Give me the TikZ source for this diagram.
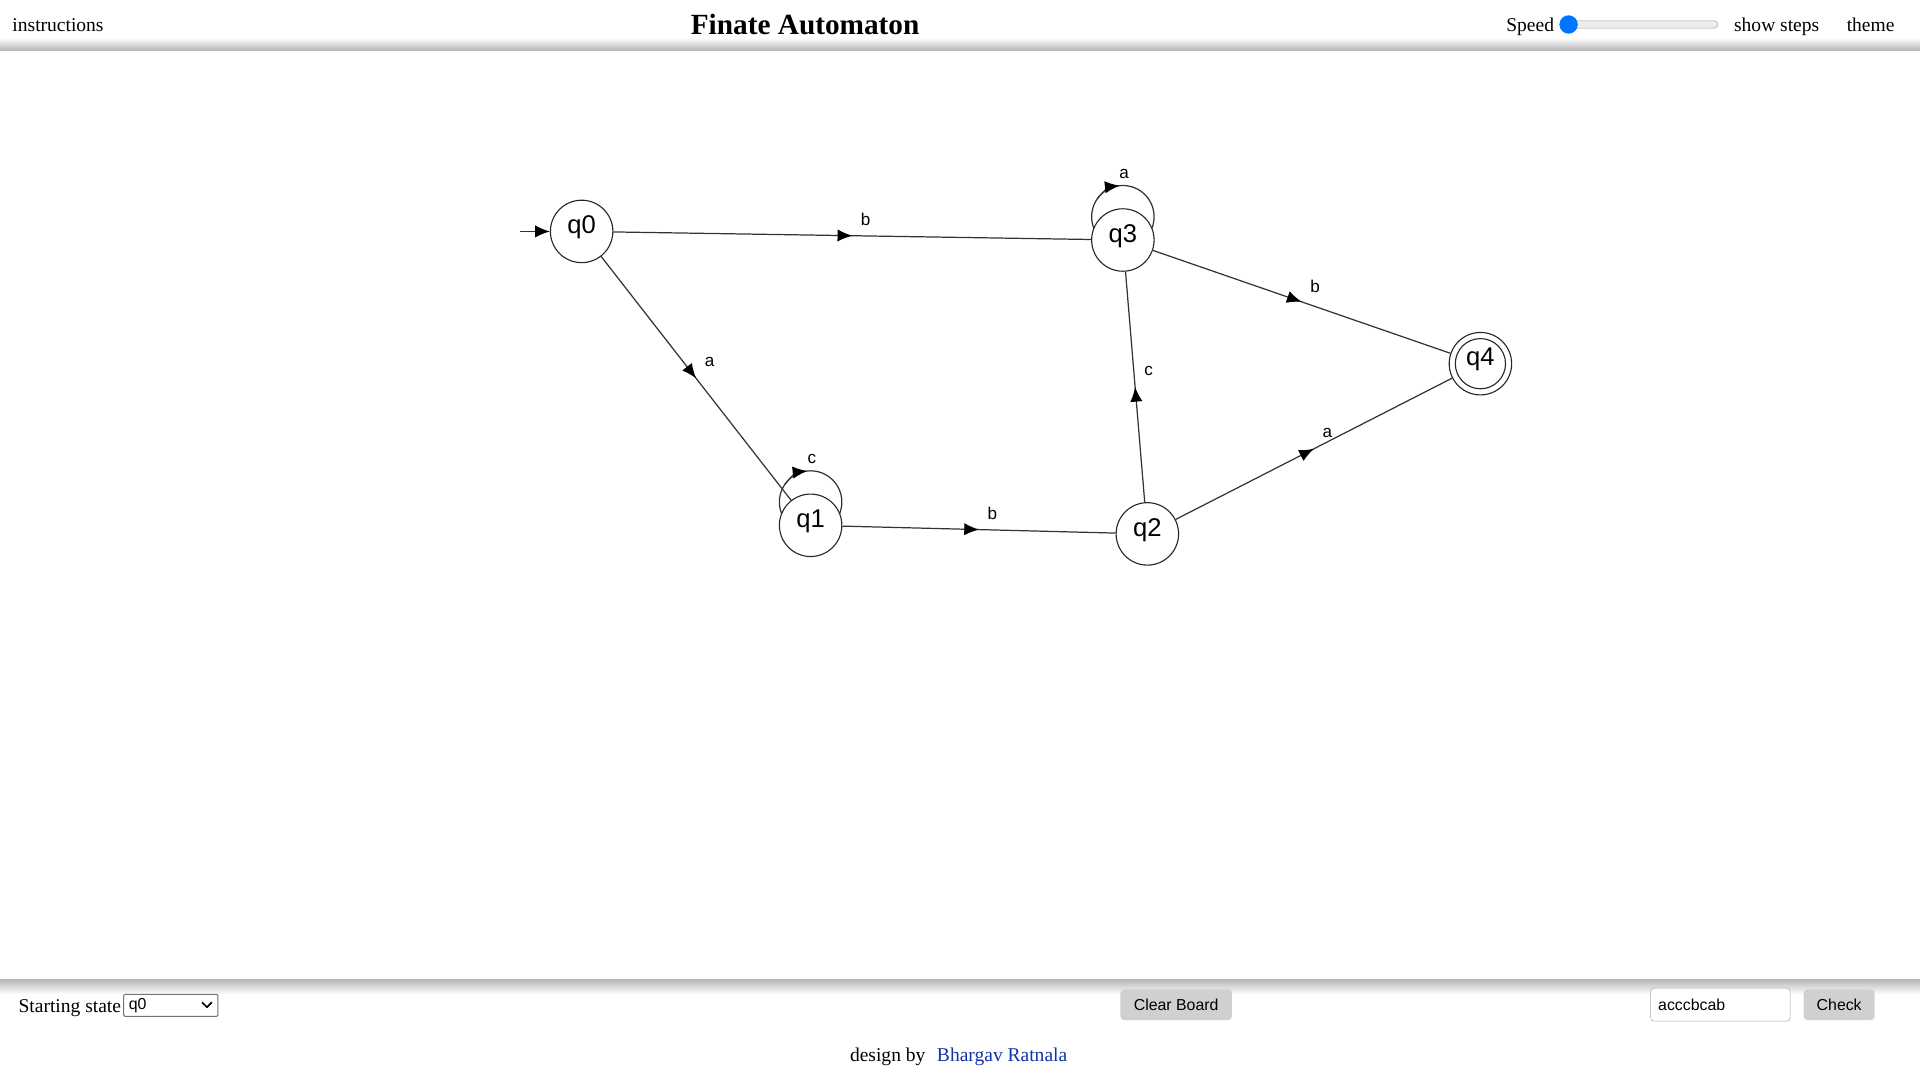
\documentclass[tikz,border=0pt]{standalone}
\usepackage{fontspec}
\setmainfont{Liberation Serif}
\newfontfamily\arialf{Liberation Sans}
\usetikzlibrary{arrows.meta,decorations.markings}
\definecolor{linkblue}{RGB}{16,52,166}
\definecolor{thumbblue}{RGB}{0,117,255}
\definecolor{btngray}{RGB}{208,208,208}
\pgfdeclarelayer{bottomlayer}
\pgfdeclarelayer{background}
\pgfsetlayers{bottomlayer,background,main}
\begin{document}
\begin{tikzpicture}[x=1bp,y=-1bp,line join=round,
  fastate/.style={circle, draw=black!85, line width=0.9bp, fill=white, minimum size=51bp, inner sep=0pt,
    font=\arialf\fontsize{21}{21}\selectfont, text height=13bp, text depth=9.5bp},
  edgeline/.style={draw=black!80, line width=1bp},
  tipstyle/.style={-{Latex[length=12bp,width=10bp,color=black]}},
  midarrow/.style={edgeline, postaction={decorate},
    decoration={markings, mark=at position 0.5 with {\arrow{Latex[length=12bp,width=10bp,color=black]}}}},
  elabel/.style={font=\arialf\fontsize{14}{14}\selectfont, inner sep=0pt, xshift=11bp, yshift=13bp},
  uitext/.style={font=\fontsize{16}{19}\selectfont, inner sep=0pt, anchor=base west},
  btntext/.style={font=\arialf\fontsize{13}{15}\selectfont, inner sep=0pt}]
\useasboundingbox (0,0) rectangle (1568,882);
\begin{pgfonlayer}{bottomlayer}
\fill[white] (0,0) rectangle (1568,882);
\end{pgfonlayer}

% ---------- top bar ----------
\shade[top color=white, bottom color=black!28] (0,31) rectangle (1568,41);
\node[uitext] (instr) at (10,26) {instructions};
\node[font=\bfseries\fontsize{24}{28}\selectfont, inner sep=0pt, anchor=base] (title) at (657.5,28.5) {Finate Automaton};
\node[uitext] (speed) at (1230,26) {Speed};
\draw[draw=black!35, fill=black!7, rounded corners=3bp] (1280,17) rectangle (1403,23);
\fill[thumbblue] (1281,20) circle[radius=7.5bp];
\node[uitext] (steps) at (1416,26) {show steps};
\node[uitext] (theme) at (1508,26) {theme};

% ---------- bottom bar ----------
\shade[top color=black!28, bottom color=white] (0,800) rectangle (1568,812);
\node[uitext] (startlbl) at (15,826.5) {Starting state};
\draw[black!55, line width=0.8bp, rounded corners=1bp, fill=white] (101,812) rectangle (178,830);
\node[btntext, anchor=west] (selq) at (105,821) {q0};
\draw[line width=1.4bp] (165,818.5) -- (169,822.5) -- (173,818.5);
\fill[btngray, rounded corners=3bp] (915,808) rectangle (1006,833);
\node[btntext] (clear) at (960.5,820.5) {Clear Board};
\draw[black!35, fill=white, rounded corners=3bp] (1348,807) rectangle (1462,834);
\node[btntext, anchor=west] (inp) at (1354,820.5) {acccbcab};
\fill[btngray, rounded corners=3bp] (1473,808) rectangle (1531,833);
\node[btntext] (check) at (1502,820.5) {Check};
\node[uitext] (design) at (694,866.5) {design by};
\node[uitext, text=linkblue] (author) at (765,866.5) {Bhargav Ratnala};

% ---------- automaton ----------
\node[fastate] (q0) at (475,189) {q0};
\node[fastate] (q1) at (662,429) {q1};
\node[fastate] (q2) at (937,436) {q2};
\node[fastate] (q3) at (917,196) {q3};
\node[fastate] (q4) at (1209,297) {q4};
\draw[black!85, line width=0.9bp] (q4.center) circle[radius=20.5bp];

\coordinate (init) at (425,189);
\coordinate (l1) at ([yshift=19bp]q1.center);
\coordinate (l3) at ([yshift=19bp]q3.center);

% self loops (behind the states)
\begin{pgfonlayer}{background}
\draw[edgeline] (l1) circle[radius=25.5bp];
\draw[edgeline] (l3) circle[radius=25.5bp];
\end{pgfonlayer}
\draw[edgeline, tipstyle] ([shift={(145:25.5bp)}]l1) arc[start angle=145, end angle=96, radius=25.5bp];
\draw[edgeline, tipstyle] ([shift={(145:25.5bp)}]l3) arc[start angle=145, end angle=96, radius=25.5bp];
\node[elabel, xshift=-10bp, yshift=-13bp] (lc1) at ([yshift=54bp]q1.center) {c};
\node[elabel, xshift=-10bp, yshift=-13bp] (la3) at ([yshift=54bp]q3.center) {a};

\draw[edgeline, tipstyle] (init) -- (q0);
\draw[midarrow] (q0) -- node[elabel] {b} (q3);
\draw[midarrow] (q0) -- node[elabel] {a} (q1);
\draw[midarrow] (q1) -- node[elabel] {b} (q2);
\draw[midarrow] (q2) -- node[elabel] {c} (q3);
\draw[midarrow] (q3) -- node[elabel] {b} (q4);
\draw[midarrow] (q2) -- node[elabel] {a} (q4);
\end{tikzpicture}
\end{document}
